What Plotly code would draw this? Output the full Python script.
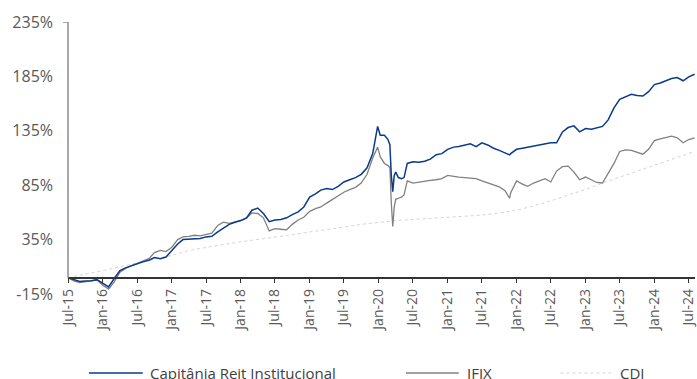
import plotly.graph_objects as go

# Cumulative return (%) of the fund, the IFIX index and the CDI rate
dates = [
    "2015-07-01", "2015-08-01", "2015-09-01", "2015-10-01", "2015-11-01", "2015-12-01",
    "2016-01-01", "2016-02-01", "2016-03-01", "2016-04-01", "2016-05-01", "2016-06-01",
    "2016-07-01", "2016-08-01", "2016-09-01", "2016-10-01", "2016-11-01", "2016-12-01",
    "2017-01-01", "2017-02-01", "2017-03-01", "2017-04-01", "2017-05-01", "2017-06-01",
    "2017-07-01", "2017-08-01", "2017-09-01", "2017-10-01", "2017-11-01", "2017-12-01",
    "2018-01-01", "2018-02-01", "2018-03-01", "2018-04-01", "2018-05-01", "2018-06-01",
    "2018-07-01", "2018-08-01", "2018-09-01", "2018-10-01", "2018-11-01", "2018-12-01",
    "2019-01-01", "2019-02-01", "2019-03-01", "2019-04-01", "2019-05-01", "2019-06-01",
    "2019-07-01", "2019-08-01", "2019-09-01", "2019-10-01", "2019-11-01", "2019-12-01",
    "2019-12-20", "2019-12-27",
    "2020-01-10", "2020-02-01", "2020-02-20", "2020-03-01", "2020-03-08", "2020-03-16",
    "2020-03-24", "2020-04-01", "2020-04-15", "2020-05-01", "2020-05-15", "2020-06-01",
    "2020-07-01", "2020-08-01", "2020-09-01", "2020-10-01", "2020-11-01", "2020-12-01",
    "2021-01-01", "2021-02-01", "2021-03-01", "2021-04-01", "2021-05-01", "2021-06-01",
    "2021-07-01", "2021-08-01", "2021-09-01", "2021-10-01", "2021-11-01", "2021-11-25",
    "2021-12-01",
    "2022-01-01", "2022-02-01", "2022-03-01", "2022-04-01", "2022-05-01", "2022-06-01",
    "2022-07-01", "2022-08-01", "2022-09-01", "2022-10-01", "2022-11-01", "2022-12-01",
    "2023-01-01", "2023-02-01", "2023-03-01", "2023-04-01", "2023-05-01", "2023-06-01",
    "2023-07-01", "2023-08-01", "2023-09-01", "2023-10-01", "2023-11-01", "2023-12-01",
    "2024-01-01", "2024-02-01", "2024-03-01", "2024-04-01", "2024-05-01", "2024-06-01",
    "2024-07-01", "2024-08-01",
]

capitania = [
    0, -2, -3.4, -3, -2.8, -1.8,
    -5, -8.5, -1, 6.5, 9, 11,
    13, 14.5, 16, 18.5, 17.5, 19,
    25, 31, 35, 35.5, 35.5, 36,
    37.5, 38, 42, 45.5, 49, 51,
    52.5, 55, 62, 64, 59, 51.5,
    53, 53.5, 55, 58, 60.5, 65,
    74, 77, 80.5, 82, 81, 84,
    88, 90, 92, 95, 101, 114,
    132, 139,
    131, 131, 127, 122, 95, 79,
    94, 97, 92, 91, 92, 105,
    106.5, 106, 107, 109, 113, 114,
    118, 120, 120.5, 122, 123, 120.5,
    124, 122, 119, 117, 115, 112.8,
    114,
    118, 119, 120, 121, 122, 123,
    124, 124, 134, 138, 139.5, 134,
    137, 136.5, 137.5, 139, 145, 156,
    164, 166.5, 168.5, 167.5, 167, 171,
    177.5, 179, 181, 183, 184, 181,
    184.5, 187,
]

ifix = [
    0, -3, -4.5, -4, -3, -2,
    -7, -10.5, -4, 5, 8.5, 11,
    13, 15, 17.5, 23, 25, 24,
    28, 35, 37.5, 38, 39, 38.5,
    40, 41, 48, 51, 50, 51,
    52.5, 55, 59.5, 59, 55, 43,
    45, 44.5, 44, 49, 53, 55.5,
    61, 63.5, 65, 68.5, 72, 75.5,
    78.5, 81, 83, 87, 95, 110,
    117, 120,
    111, 105, 103, 101, 70, 47,
    65, 72, 73, 74, 76, 89,
    87, 88, 89, 89.5, 90, 91,
    94, 93, 92.5, 92, 91.5, 91,
    89, 87, 85, 83.5, 80, 73,
    78,
    89, 86, 84, 87, 89, 91,
    88, 98, 102, 102.5, 97, 90,
    92.5, 90, 87.5, 87, 96, 105,
    116, 117.5, 117, 115.5, 113.5, 118,
    126, 127.5, 129, 130, 128.5, 124,
    127, 128.5,
]

cdi_dates = [
    "2015-07-01", "2015-10-01", "2016-01-01", "2016-04-01", "2016-07-01", "2016-10-01",
    "2017-01-01", "2017-04-01", "2017-07-01", "2017-10-01", "2018-01-01", "2018-04-01",
    "2018-07-01", "2018-10-01", "2019-01-01", "2019-04-01", "2019-07-01", "2019-10-01",
    "2020-01-01", "2020-04-01", "2020-07-01", "2020-10-01", "2021-01-01", "2021-04-01",
    "2021-07-01", "2021-10-01", "2022-01-01", "2022-04-01", "2022-07-01", "2022-10-01",
    "2023-01-01", "2023-04-01", "2023-07-01", "2023-10-01", "2024-01-01", "2024-04-01",
    "2024-08-01",
]
cdi = [
    0, 3, 6.5, 10, 13.5, 17,
    20.5, 25, 28, 30.5, 33, 35,
    37, 39.5, 42, 44, 46.5, 49,
    51, 52.5, 53.5, 54.5, 55, 56,
    57.5, 59.5, 62, 66, 70.5, 76,
    81, 87, 92.5, 98, 103.5, 109,
    116,
]

y_ticks = [-15, 35, 85, 135, 185, 235]
y_ticktext = [f"{v}%" for v in y_ticks]

series_names = ["Capitânia Reit Institucional", "IFIX", "CDI"]
BLUE = "#0a3a8c"
GRAY = "#808080"
LIGHT = "#d4d4d4"
TEXT = "#595959"
FONT = "Open Sans"

fig = go.Figure()
fig.add_trace(go.Scatter(x=cdi_dates, y=cdi, mode="lines", name=series_names[2],
                         line=dict(color=LIGHT, width=1, dash="dot")))
fig.add_trace(go.Scatter(x=dates, y=ifix, mode="lines", name=series_names[1],
                         line=dict(color=GRAY, width=1.3)))
fig.add_trace(go.Scatter(x=dates, y=capitania, mode="lines", name=series_names[0],
                         line=dict(color=BLUE, width=1.5)))

W, H = 697, 379
M_L, M_R, M_T, M_B = 68, 0, 22, 85
plot_w = W - M_L - M_R
plot_h = H - M_T - M_B
y_min, y_max = -15, 235


def px_x(px):
    return (px - M_L) / plot_w


def px_y(py):
    return (H - M_B - py) / plot_h


shapes = [
    # vertical axis line, drawn from 0% up to the top tick
    dict(type="line", xref="paper", yref="y", x0=0, x1=0, y0=0, y1=y_max,
         line=dict(color="#8c8c8c", width=1.5)),
    dict(type="line", xref="paper", yref="y", xsizemode="pixel", xanchor=0,
         x0=-5, x1=0, y0=y_max, y1=y_max, line=dict(color="#8c8c8c", width=1.5)),
]

# legend drawn by hand: line sample followed by its label
legend_y = px_y(373)
legend_items = [
    (series_names[0], dict(color=BLUE, width=1.5), 89, 143, 148),
    (series_names[1], dict(color=GRAY, width=1.3), 407, 460, 466),
    (series_names[2], dict(color=LIGHT, width=1, dash="dot"), 562, 615, 620),
]
annotations = []
for name, ln, x0, x1, xt in legend_items:
    shapes.append(dict(type="line", xref="paper", yref="paper",
                       x0=px_x(x0), x1=px_x(x1), y0=legend_y, y1=legend_y, line=ln))
    annotations.append(dict(xref="paper", yref="paper", x=px_x(xt), y=legend_y,
                            text=name, showarrow=False, xanchor="left", yanchor="middle",
                            font=dict(family=FONT, size=15, color="#404040")))

fig.update_layout(
    width=W, height=H,
    margin=dict(l=M_L, r=M_R, t=M_T, b=M_B),
    paper_bgcolor="white", plot_bgcolor="white",
    showlegend=False,
    shapes=shapes,
    annotations=annotations,
    xaxis=dict(
        type="date",
        range=["2015-07-01", "2024-08-03"],
        anchor="free", position=(0 - y_min) / (y_max - y_min),
        showline=True, linecolor="#333333", linewidth=1.5,
        ticks="outside", ticklen=5, tickwidth=1.2, tickcolor="#333333",
        tick0="2015-07-01", dtick="M6", tickformat="%b-%y", tickangle=-90,
        tickfont=dict(family=FONT, size=14, color=TEXT),
        ticklabeloverflow="allow",
        showgrid=False, zeroline=False,
    ),
    yaxis=dict(
        range=[y_min, y_max],
        tickvals=y_ticks, ticktext=y_ticktext,
        tickfont=dict(family=FONT, size=16, color=TEXT),
        ticklabelstandoff=14,
        showline=False, showgrid=False, zeroline=False,
    ),
)

fig.write_html("out.html")
